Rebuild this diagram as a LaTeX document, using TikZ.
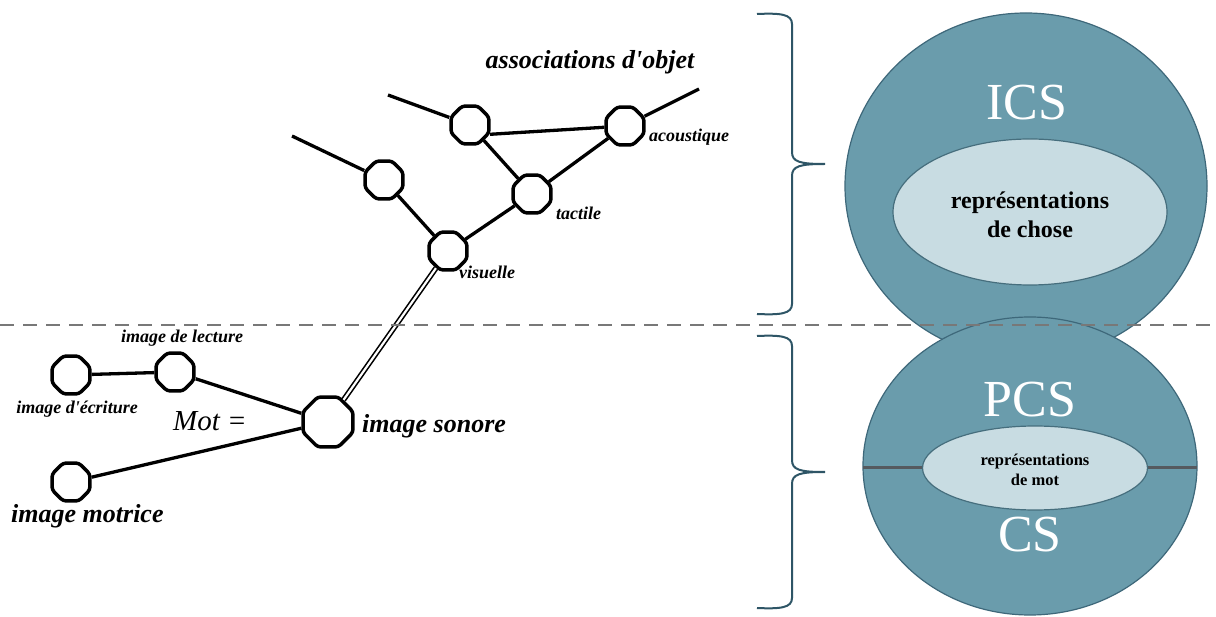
\documentclass[tikz,border=0pt]{standalone}
\usepackage{fontspec}
\setmainfont{Liberation Serif}
\usetikzlibrary{shapes.geometric}
\definecolor{outerfill}{RGB}{106,156,172}
\definecolor{outerline}{RGB}{62,104,122}
\definecolor{innerfill}{RGB}{200,220,226}
\definecolor{innerline}{RGB}{70,110,125}
\definecolor{bracecol}{RGB}{46,85,102}
\definecolor{dashcol}{RGB}{120,120,120}
\definecolor{splitcol}{RGB}{85,90,95}
\newcommand{\fs}[1]{\fontsize{#1}{#1}\selectfont}
\tikzset{
  gnode/.style={draw=black, line width=3.5pt, regular polygon, regular polygon sides=8, rounded corners=3pt, minimum size=41pt, inner sep=0pt},
  bignode/.style={gnode, minimum size=54pt},
  gedge/.style={line width=3.3pt, black},
  dedge/.style={double=white, double distance=2.2pt, line width=1.6pt, black},
  small/.style={font=\fs{18}\bfseries\itshape, inner sep=0pt},
  big/.style={font=\fs{26}\bfseries\itshape, inner sep=0pt},
  outer/.style={ellipse, draw=outerline, fill=outerfill, line width=1.2pt, inner sep=0pt},
  inner/.style={ellipse, draw=innerline, fill=innerfill, line width=1.2pt, inner sep=0pt},
  captext/.style={text=white, font=\fs{52}, inner sep=0pt},
  bracepath/.style={draw=bracecol, line width=2pt},
}
\begin{document}
\begin{tikzpicture}[x=1pt,y=-1pt]
\useasboundingbox (0,0) rectangle (1216,617);
\fill[white] (0,0) rectangle (1216,617);

% ---------- right side ----------
\node[outer, minimum width=362pt, minimum height=346pt] (ics) at (1026,186) {};
\node[inner, minimum width=274pt, minimum height=146pt] (rchose) at (1030,212) {};
\node[captext] (icstext) at (1027,103) {ICS};
\node[font=\fs{24}\bfseries, align=center, inner sep=0pt] (rchosetext) at (1030,215) {représentations\\[5pt]de chose};

\node[outer, minimum width=334pt, minimum height=298pt] (pcs) at (1030,466) {};
\coordinate (splitL) at (863,468);
\coordinate (splitR) at (1197,468);
\draw[splitcol, line width=3pt] (splitL) -- (splitR);
\node[inner, minimum width=225pt, minimum height=84pt] (rmot) at (1035,468) {};
\node[captext] (pcstext) at (1030,400) {PCS};
\node[captext] (cstext) at (1030,535) {CS};
\node[font=\fs{16.5}\bfseries, align=center, inner sep=0pt] (rmottext) at (1035,470) {représentations\\[3pt]de mot};

% braces
\coordinate (b1top) at (757,14);
\coordinate (b1tip) at (825,164);
\coordinate (b1bot) at (757,314);
\draw[bracepath] (b1top) .. controls (780,13) and (792,14) .. (792,24)
  -- (792,152) .. controls (792,162) and (800,164) .. (b1tip)
  .. controls (800,164) and (792,166) .. (792,176)
  -- (792,304) .. controls (792,314) and (780,315) .. (b1bot);
\coordinate (b2top) at (757,336);
\coordinate (b2tip) at (825,472);
\coordinate (b2bot) at (757,608);
\draw[bracepath] (b2top) .. controls (780,335) and (792,336) .. (792,346)
  -- (792,460) .. controls (792,470) and (800,472) .. (b2tip)
  .. controls (800,472) and (792,474) .. (792,484)
  -- (792,598) .. controls (792,608) and (780,609) .. (b2bot);

% ---------- left graph ----------
\node[gnode] (na) at (470,125) {};
\node[gnode] (nb) at (625,126) {};
\node[gnode] (nc) at (384,180) {};
\node[gnode] (nd) at (532,194) {};
\node[gnode] (ne) at (448,251) {};
\coordinate (fa) at (388,95);
\coordinate (fb) at (699,89);
\coordinate (fc) at (292,136);

\node[gnode] (necr) at (71,375) {};
\node[gnode] (nlec) at (175,372) {};
\node[bignode] (nson) at (328,422) {};
\node[gnode] (nmot) at (71,482) {};

\draw[gedge] (fa) -- (na);
\draw[gedge] (fb) -- (nb);
\draw[gedge] (fc) -- (nc);
\draw[gedge] (na.-25) -- (nb);
\draw[gedge] (na) -- (nd);
\draw[gedge] (nb) -- (nd);
\draw[gedge] (nc) -- (ne);
\draw[gedge] (nd) -- (ne);
\draw[gedge] (necr) -- (nlec);
\draw[gedge] (nlec) -- (nson);
\draw[gedge] (nmot) -- (nson);
\draw[dedge] (nson) -- (ne);

\node[big] (lassoc) at (590,62) {associations d\textquotesingle objet};
\node[small, anchor=west] (lacou) at (649,137) {acoustique};
\node[small, anchor=west] (ltact) at (556,213) {tactile};
\node[small, anchor=west] (lvis) at (459,272) {visuelle};
\node[small] (llect) at (182,338) {image de lecture};
\node[small] (lecr) at (77,409) {image d\textquotesingle écriture};
\node[font=\fs{29}\itshape, inner sep=0pt] (lmot) at (210,421) {Mot =};
\node[big, anchor=west] (lson) at (362,426) {image sonore};
\node[big, anchor=west] (lmotr) at (11,516) {image motrice};

% dashed separator
\coordinate (dl) at (0,325);
\coordinate (dr) at (1216,325);
\draw[dashcol, line width=2pt, dash pattern=on 14pt off 9pt] (dl) -- (dr);
\end{tikzpicture}
\end{document}
